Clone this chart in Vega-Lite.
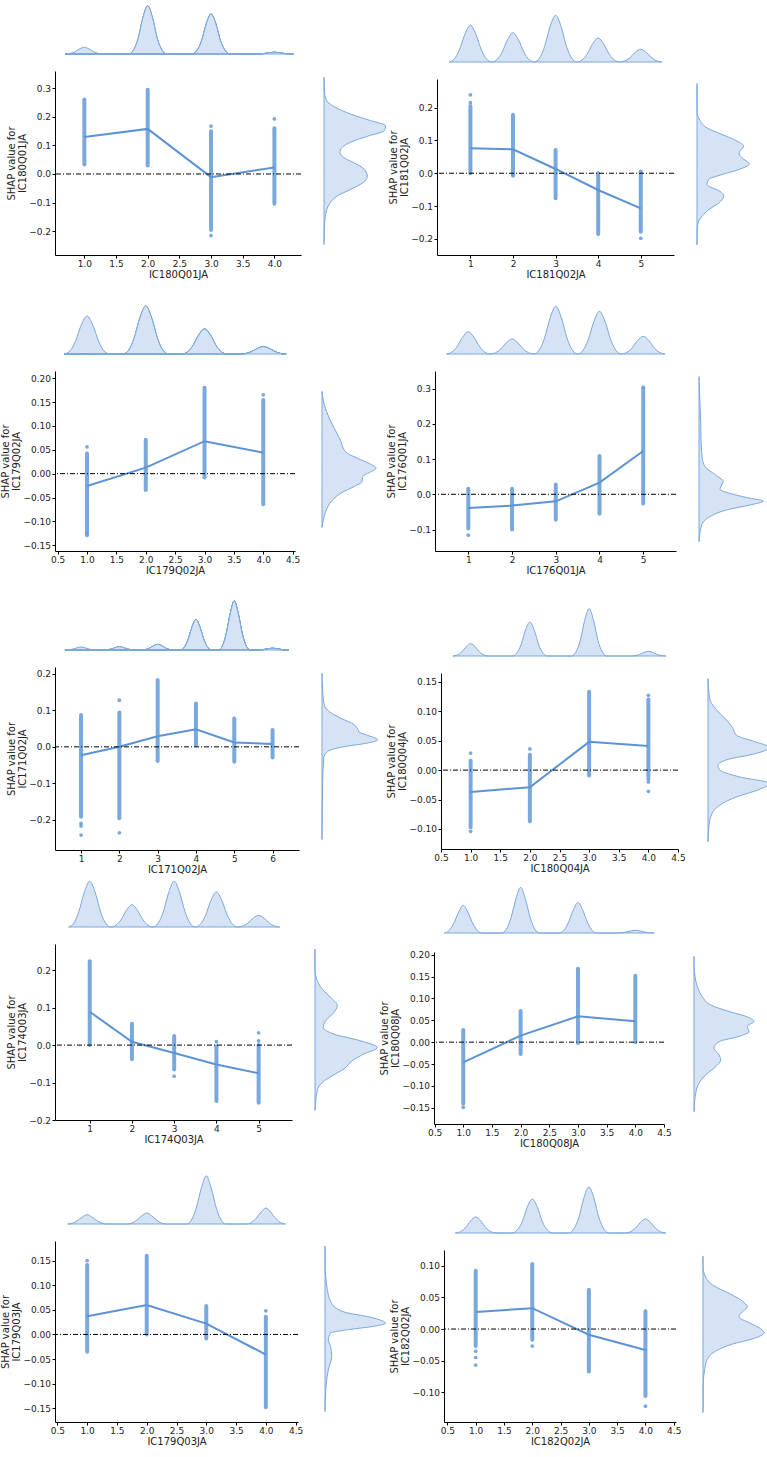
{
"$schema":"https://vega.github.io/schema/vega-lite/v6.json",
"background":"white",
"padding":{"left":0,"top":3,"right":0,"bottom":0},
"config":{"view":{"stroke":null},"font":"DejaVu Sans",
"axis":{"domainColor":"#000","tickColor":"#000","labelColor":"#222","titleColor":"#222","labelFont":"DejaVu Sans","titleFont":"DejaVu Sans","labelFontSize":9,"titleFontSize":10,"titleFontWeight":"normal","tickSize":3,"labelPadding":1.5,"titlePadding":1,"titleLineHeight":11,"grid":false,"labelFlush":false,"labelOverlap":false}},
"spacing":4,
"vconcat":[
{"hconcat":[
{"hconcat":[
 {"vconcat":[
  {"width":246,"height":50,"data":{"values":[{"x":0.7,"d":0,"g":1},{"x":0.775,"d":0.54,"g":1},{"x":0.85,"d":2.18,"g":1},{"x":0.925,"d":5.06,"g":1},{"x":1,"d":6.7,"g":1},{"x":1.075,"d":5.06,"g":1},{"x":1.15,"d":2.18,"g":1},{"x":1.225,"d":0.54,"g":1},{"x":1.3,"d":0,"g":1},{"x":1.7,"d":0,"g":2},{"x":1.775,"d":3.86,"g":2},{"x":1.85,"d":15.7,"g":2},{"x":1.925,"d":36.5,"g":2},{"x":2,"d":48.3,"g":2},{"x":2.075,"d":36.5,"g":2},{"x":2.15,"d":15.7,"g":2},{"x":2.225,"d":3.86,"g":2},{"x":2.3,"d":0,"g":2},{"x":2.7,"d":0,"g":3},{"x":2.775,"d":3.2,"g":3},{"x":2.85,"d":13,"g":3},{"x":2.925,"d":30.2,"g":3},{"x":3,"d":40,"g":3},{"x":3.075,"d":30.2,"g":3},{"x":3.15,"d":13,"g":3},{"x":3.225,"d":3.2,"g":3},{"x":3.3,"d":0,"g":3},{"x":3.7,"d":0,"g":4},{"x":3.775,"d":0.14,"g":4},{"x":3.85,"d":0.55,"g":4},{"x":3.925,"d":1.28,"g":4},{"x":4,"d":1.7,"g":4},{"x":4.075,"d":1.28,"g":4},{"x":4.15,"d":0.55,"g":4},{"x":4.225,"d":0.14,"g":4},{"x":4.3,"d":0,"g":4}]},
   "mark":{"type":"area","interpolate":"monotone","fill":"#d6e3f4","stroke":"#7ba7dd","strokeWidth":1},
   "encoding":{"x":{"field":"x","type":"quantitative","scale":{"domain":[0.537,4.42],"nice":false,"zero":false},"axis":null},"y":{"field":"d","type":"quantitative","scale":{"domain":[0,50],"nice":false},"axis":null},"detail":{"field":"g","type":"nominal"}}},
  {"width":246,"height":184,"layer":[
   {"data":{"values":[{"x":1,"y":0.033,"y2":0.261},{"x":2,"y":0.03,"y2":0.295},{"x":3,"y":-0.196,"y2":0.15},{"x":4,"y":-0.104,"y2":0.16}]},
    "mark":{"type":"rule","color":"#6a9edb","strokeWidth":4,"strokeCap":"round","opacity":0.9},
    "encoding":{"x":{"field":"x","type":"quantitative","scale":{"domain":[0.537,4.42],"nice":false,"zero":false},"axis":{"values":[1,1.5,2,2.5,3,3.5,4],"tickCount":20,"labelOverlap":false,"format":".1f","title":"IC180Q01JA"}},"y":{"field":"y","type":"quantitative","scale":{"domain":[-0.284,0.361],"nice":false,"zero":false},"axis":{"values":[-0.2,-0.1,0,0.1,0.2,0.3],"tickCount":20,"labelOverlap":false,"format":".1f","title":["SHAP value for","IC180Q01JA"]}},"y2":{"field":"y2"}}},
   {"data":{"values":[{"x":3,"y":0.168},{"x":3,"y":-0.216},{"x":4,"y":0.193}]},"mark":{"type":"circle","color":"#6a9edb","size":14,"opacity":0.9},
    "encoding":{"x":{"field":"x","type":"quantitative","scale":{"domain":[0.537,4.42],"nice":false,"zero":false}},"y":{"field":"y","type":"quantitative","scale":{"domain":[-0.284,0.361],"nice":false,"zero":false}}}},
   {"data":{"values":[{"x":1,"y":0.13},{"x":2,"y":0.158},{"x":3,"y":-0.011},{"x":4,"y":0.023}]},"mark":{"type":"line","color":"#5b93d6","strokeWidth":2},
    "encoding":{"x":{"field":"x","type":"quantitative","scale":{"domain":[0.537,4.42],"nice":false,"zero":false}},"y":{"field":"y","type":"quantitative","scale":{"domain":[-0.284,0.361],"nice":false,"zero":false}}}},
   {"data":{"values":[{}]},"mark":{"type":"rule","color":"#000","strokeWidth":1,"strokeDash":[5,2,1,2]},"encoding":{"y":{"datum":0}}}
  ]}
 ],"spacing":15},
 {"vconcat":[
  {"width":65,"height":50,"data":{"values":[{}]},"mark":{"type":"text","text":""},"encoding":{}},
  {"width":65,"height":184,"data":{"values":[{"y":0.332,"d":0},{"y":0.28,"d":0.5},{"y":0.25,"d":2.7},{"y":0.226,"d":11.7},{"y":0.203,"d":26.7},{"y":0.18,"d":46.7},{"y":0.162,"d":61.7},{"y":0.144,"d":60},{"y":0.127,"d":45},{"y":0.109,"d":30},{"y":0.086,"d":18},{"y":0.068,"d":16},{"y":0.05,"d":20},{"y":0.027,"d":33},{"y":0.0035,"d":41.7},{"y":-0.014,"d":43.3},{"y":-0.0375,"d":39},{"y":-0.061,"d":26.7},{"y":-0.084,"d":13.3},{"y":-0.114,"d":5},{"y":-0.149,"d":1.7},{"y":-0.196,"d":0.3},{"y":-0.254,"d":0}]},
   "mark":{"type":"area","orient":"horizontal","interpolate":"monotone","fill":"#d6e3f4","stroke":"#7ba7dd","strokeWidth":1},
   "encoding":{"y":{"field":"y","type":"quantitative","scale":{"domain":[-0.284,0.361],"nice":false,"zero":false},"axis":null},"x":{"field":"d","type":"quantitative","scale":{"domain":[0,65],"nice":false},"axis":null}}}
 ],"spacing":15}
],"spacing":20},
{"hconcat":[
 {"vconcat":[
  {"width":237,"height":58,"data":{"values":[{"x":0.5,"d":0},{"x":0.62,"d":2.94},{"x":0.74,"d":11.9},{"x":0.87,"d":27.7},{"x":1,"d":36.7},{"x":1.13,"d":27.7},{"x":1.26,"d":11.9},{"x":1.38,"d":2.94},{"x":1.5,"d":0},{"x":1.62,"d":2.34},{"x":1.74,"d":9.52},{"x":1.87,"d":22.1},{"x":2,"d":29.3},{"x":2.13,"d":22.1},{"x":2.26,"d":9.52},{"x":2.38,"d":2.34},{"x":2.5,"d":0},{"x":2.62,"d":3.74},{"x":2.74,"d":15.2},{"x":2.87,"d":35.3},{"x":3,"d":46.7},{"x":3.13,"d":35.3},{"x":3.26,"d":15.2},{"x":3.38,"d":3.74},{"x":3.5,"d":0},{"x":3.62,"d":1.92},{"x":3.74,"d":7.8},{"x":3.87,"d":18.1},{"x":4,"d":24},{"x":4.13,"d":18.1},{"x":4.26,"d":7.8},{"x":4.38,"d":1.92},{"x":4.5,"d":0},{"x":4.62,"d":1.02},{"x":4.74,"d":4.13},{"x":4.87,"d":9.59},{"x":5,"d":12.7},{"x":5.13,"d":9.59},{"x":5.26,"d":4.13},{"x":5.38,"d":1.02},{"x":5.5,"d":0}]},
   "mark":{"type":"area","interpolate":"monotone","fill":"#d6e3f4","stroke":"#7ba7dd","strokeWidth":1},
   "encoding":{"x":{"field":"x","type":"quantitative","scale":{"domain":[0.216,5.78],"nice":false,"zero":false},"axis":null},"y":{"field":"d","type":"quantitative","scale":{"domain":[0,58],"nice":false},"axis":null}}},
  {"width":237,"height":176,"layer":[
   {"data":{"values":[{"x":1,"y":0,"y2":0.205},{"x":2,"y":-0.005,"y2":0.178},{"x":3,"y":-0.076,"y2":0.071},{"x":4,"y":-0.185,"y2":0},{"x":5,"y":-0.178,"y2":0.005}]},
    "mark":{"type":"rule","color":"#6a9edb","strokeWidth":4,"strokeCap":"round","opacity":0.9},
    "encoding":{"x":{"field":"x","type":"quantitative","scale":{"domain":[0.216,5.78],"nice":false,"zero":false},"axis":{"values":[1,2,3,4,5],"tickCount":20,"labelOverlap":false,"format":"d","title":"IC181Q02JA"}},"y":{"field":"y","type":"quantitative","scale":{"domain":[-0.249,0.287],"nice":false,"zero":false},"axis":{"values":[-0.2,-0.1,0,0.1,0.2],"tickCount":20,"labelOverlap":false,"format":".1f","title":["SHAP value for","IC181Q02JA"]}},"y2":{"field":"y2"}}},
   {"data":{"values":[{"x":1,"y":0.239},{"x":1,"y":0.215},{"x":5,"y":-0.198},{"x":2,"y":-0.008}]},"mark":{"type":"circle","color":"#6a9edb","size":14,"opacity":0.9},
    "encoding":{"x":{"field":"x","type":"quantitative","scale":{"domain":[0.216,5.78],"nice":false,"zero":false}},"y":{"field":"y","type":"quantitative","scale":{"domain":[-0.249,0.287],"nice":false,"zero":false}}}},
   {"data":{"values":[{"x":1,"y":0.076},{"x":2,"y":0.073},{"x":3,"y":0.013},{"x":4,"y":-0.051},{"x":5,"y":-0.107}]},"mark":{"type":"line","color":"#5b93d6","strokeWidth":2},
    "encoding":{"x":{"field":"x","type":"quantitative","scale":{"domain":[0.216,5.78],"nice":false,"zero":false}},"y":{"field":"y","type":"quantitative","scale":{"domain":[-0.249,0.287],"nice":false,"zero":false}}}},
   {"data":{"values":[{}]},"mark":{"type":"rule","color":"#000","strokeWidth":1,"strokeDash":[5,2,1,2]},"encoding":{"y":{"datum":0}}}
  ]}
 ],"spacing":15},
 {"vconcat":[
  {"width":65,"height":58,"data":{"values":[{}]},"mark":{"type":"text","text":""},"encoding":{}},
  {"width":65,"height":176,"data":{"values":[{"y":0.267,"d":0},{"y":0.183,"d":0},{"y":0.163,"d":1.7},{"y":0.132,"d":10},{"y":0.112,"d":25},{"y":0.092,"d":40},{"y":0.076,"d":46.7},{"y":0.056,"d":42},{"y":0.041,"d":45},{"y":0.022,"d":52.3},{"y":0.005,"d":41.7},{"y":-0.01,"d":25},{"y":-0.025,"d":11.7},{"y":-0.041,"d":10},{"y":-0.061,"d":23},{"y":-0.076,"d":26.7},{"y":-0.097,"d":21.7},{"y":-0.117,"d":11.7},{"y":-0.137,"d":5},{"y":-0.163,"d":0.7},{"y":-0.193,"d":0},{"y":-0.224,"d":0}]},
   "mark":{"type":"area","orient":"horizontal","interpolate":"monotone","fill":"#d6e3f4","stroke":"#7ba7dd","strokeWidth":1},
   "encoding":{"y":{"field":"y","type":"quantitative","scale":{"domain":[-0.249,0.287],"nice":false,"zero":false},"axis":null},"x":{"field":"d","type":"quantitative","scale":{"domain":[0,65],"nice":false},"axis":null}}}
 ],"spacing":15}
],"spacing":20}
],"spacing":-1},
{"hconcat":[
{"hconcat":[
 {"vconcat":[
  {"width":240,"height":70,"data":{"values":[{"x":0.61,"d":0,"g":1},{"x":0.71,"d":3.04,"g":1},{"x":0.8,"d":12.4,"g":1},{"x":0.9,"d":28.7,"g":1},{"x":1,"d":38,"g":1},{"x":1.1,"d":28.7,"g":1},{"x":1.2,"d":12.4,"g":1},{"x":1.29,"d":3.04,"g":1},{"x":1.39,"d":0,"g":1},{"x":1.61,"d":0,"g":2},{"x":1.71,"d":3.84,"g":2},{"x":1.8,"d":15.6,"g":2},{"x":1.9,"d":36.2,"g":2},{"x":2,"d":48,"g":2},{"x":2.1,"d":36.2,"g":2},{"x":2.2,"d":15.6,"g":2},{"x":2.29,"d":3.84,"g":2},{"x":2.39,"d":0,"g":2},{"x":2.61,"d":0,"g":3},{"x":2.71,"d":2,"g":3},{"x":2.8,"d":8.13,"g":3},{"x":2.9,"d":18.9,"g":3},{"x":3,"d":25,"g":3},{"x":3.1,"d":18.9,"g":3},{"x":3.2,"d":8.13,"g":3},{"x":3.29,"d":2,"g":3},{"x":3.39,"d":0,"g":3},{"x":3.61,"d":0,"g":4},{"x":3.71,"d":0.58,"g":4},{"x":3.8,"d":2.37,"g":4},{"x":3.9,"d":5.51,"g":4},{"x":4,"d":7.3,"g":4},{"x":4.1,"d":5.51,"g":4},{"x":4.2,"d":2.37,"g":4},{"x":4.29,"d":0.58,"g":4},{"x":4.39,"d":0,"g":4}]},
   "mark":{"type":"area","interpolate":"monotone","fill":"#d6e3f4","stroke":"#7ba7dd","strokeWidth":1},
   "encoding":{"x":{"field":"x","type":"quantitative","scale":{"domain":[0.455,4.54],"nice":false,"zero":false},"axis":null},"y":{"field":"d","type":"quantitative","scale":{"domain":[0,70],"nice":false},"axis":null},"detail":{"field":"g","type":"nominal"}}},
  {"width":240,"height":180,"layer":[
   {"data":{"values":[{"x":1,"y":-0.129,"y2":0.042},{"x":2,"y":-0.034,"y2":0.071},{"x":3,"y":-0.008,"y2":0.18},{"x":4,"y":-0.064,"y2":0.154}]},
    "mark":{"type":"rule","color":"#6a9edb","strokeWidth":4,"strokeCap":"round","opacity":0.9},
    "encoding":{"x":{"field":"x","type":"quantitative","scale":{"domain":[0.455,4.54],"nice":false,"zero":false},"axis":{"values":[0.5,1,1.5,2,2.5,3,3.5,4,4.5],"tickCount":20,"labelOverlap":false,"format":".1f","title":"IC179Q02JA"}},"y":{"field":"y","type":"quantitative","scale":{"domain":[-0.162,0.215],"nice":false,"zero":false},"axis":{"values":[-0.15,-0.1,-0.05,0,0.05,0.1,0.15,0.2],"tickCount":20,"labelOverlap":false,"format":".2f","title":["SHAP value for","IC179Q02JA"]}},"y2":{"field":"y2"}}},
   {"data":{"values":[{"x":1,"y":0.056},{"x":4,"y":0.165},{"x":1,"y":-0.125}]},"mark":{"type":"circle","color":"#6a9edb","size":14,"opacity":0.9},
    "encoding":{"x":{"field":"x","type":"quantitative","scale":{"domain":[0.455,4.54],"nice":false,"zero":false}},"y":{"field":"y","type":"quantitative","scale":{"domain":[-0.162,0.215],"nice":false,"zero":false}}}},
   {"data":{"values":[{"x":1,"y":-0.026},{"x":2,"y":0.0126},{"x":3,"y":0.068},{"x":4,"y":0.044}]},"mark":{"type":"line","color":"#5b93d6","strokeWidth":2},
    "encoding":{"x":{"field":"x","type":"quantitative","scale":{"domain":[0.455,4.54],"nice":false,"zero":false}},"y":{"field":"y","type":"quantitative","scale":{"domain":[-0.162,0.215],"nice":false,"zero":false}}}},
   {"data":{"values":[{}]},"mark":{"type":"rule","color":"#000","strokeWidth":1,"strokeDash":[5,2,1,2]},"encoding":{"y":{"datum":0}}}
  ]}
 ],"spacing":15},
 {"vconcat":[
  {"width":65,"height":70,"data":{"values":[{}]},"mark":{"type":"text","text":""},"encoding":{}},
  {"width":65,"height":180,"data":{"values":[{"y":0.168,"d":0},{"y":0.14,"d":2.3},{"y":0.112,"d":7.3},{"y":0.084,"d":14},{"y":0.063,"d":19},{"y":0.045,"d":22.3},{"y":0.038,"d":25.7},{"y":0.028,"d":35.7},{"y":0.017,"d":47.3},{"y":0.007,"d":54},{"y":-0.002,"d":47.3},{"y":-0.01,"d":40.7},{"y":-0.021,"d":40},{"y":-0.031,"d":32.3},{"y":-0.045,"d":19},{"y":-0.059,"d":10.7},{"y":-0.077,"d":5},{"y":-0.098,"d":1.7},{"y":-0.117,"d":0}]},
   "mark":{"type":"area","orient":"horizontal","interpolate":"monotone","fill":"#d6e3f4","stroke":"#7ba7dd","strokeWidth":1},
   "encoding":{"y":{"field":"y","type":"quantitative","scale":{"domain":[-0.162,0.215],"nice":false,"zero":false},"axis":null},"x":{"field":"d","type":"quantitative","scale":{"domain":[0,65],"nice":false},"axis":null}}}
 ],"spacing":15}
],"spacing":20},
{"hconcat":[
 {"vconcat":[
  {"width":241,"height":70,"data":{"values":[{"x":0.5,"d":0},{"x":0.62,"d":1.78},{"x":0.74,"d":7.25},{"x":0.87,"d":16.8},{"x":1,"d":22.3},{"x":1.13,"d":16.8},{"x":1.26,"d":7.25},{"x":1.38,"d":1.78},{"x":1.5,"d":0},{"x":1.62,"d":1.2},{"x":1.74,"d":4.88},{"x":1.87,"d":11.3},{"x":2,"d":15},{"x":2.13,"d":11.3},{"x":2.26,"d":4.88},{"x":2.38,"d":1.2},{"x":2.5,"d":0},{"x":2.62,"d":3.82},{"x":2.74,"d":15.5},{"x":2.87,"d":36},{"x":3,"d":47.7},{"x":3.13,"d":36},{"x":3.26,"d":15.5},{"x":3.38,"d":3.82},{"x":3.5,"d":0},{"x":3.62,"d":3.42},{"x":3.74,"d":13.9},{"x":3.87,"d":32.2},{"x":4,"d":42.7},{"x":4.13,"d":32.2},{"x":4.26,"d":13.9},{"x":4.38,"d":3.42},{"x":4.5,"d":0},{"x":4.62,"d":1.42},{"x":4.74,"d":5.75},{"x":4.87,"d":13.4},{"x":5,"d":17.7},{"x":5.13,"d":13.4},{"x":5.26,"d":5.75},{"x":5.38,"d":1.42},{"x":5.5,"d":0}]},
   "mark":{"type":"area","interpolate":"monotone","fill":"#d6e3f4","stroke":"#7ba7dd","strokeWidth":1},
   "encoding":{"x":{"field":"x","type":"quantitative","scale":{"domain":[0.238,5.75],"nice":false,"zero":false},"axis":null},"y":{"field":"d","type":"quantitative","scale":{"domain":[0,70],"nice":false},"axis":null}}},
  {"width":241,"height":180,"layer":[
   {"data":{"values":[{"x":1,"y":-0.097,"y2":0.016},{"x":2,"y":-0.1,"y2":0.016},{"x":3,"y":-0.072,"y2":0.028},{"x":4,"y":-0.055,"y2":0.109},{"x":5,"y":-0.026,"y2":0.3}]},
    "mark":{"type":"rule","color":"#6a9edb","strokeWidth":4,"strokeCap":"round","opacity":0.9},
    "encoding":{"x":{"field":"x","type":"quantitative","scale":{"domain":[0.238,5.75],"nice":false,"zero":false},"axis":{"values":[1,2,3,4,5],"tickCount":20,"labelOverlap":false,"format":"d","title":"IC176Q01JA"}},"y":{"field":"y","type":"quantitative","scale":{"domain":[-0.161,0.35],"nice":false,"zero":false},"axis":{"values":[-0.1,0,0.1,0.2,0.3],"tickCount":20,"labelOverlap":false,"format":".1f","title":["SHAP value for","IC176Q01JA"]}},"y2":{"field":"y2"}}},
   {"data":{"values":[{"x":1,"y":-0.116},{"x":5,"y":0.304}]},"mark":{"type":"circle","color":"#6a9edb","size":14,"opacity":0.9},
    "encoding":{"x":{"field":"x","type":"quantitative","scale":{"domain":[0.238,5.75],"nice":false,"zero":false}},"y":{"field":"y","type":"quantitative","scale":{"domain":[-0.161,0.35],"nice":false,"zero":false}}}},
   {"data":{"values":[{"x":1,"y":-0.039},{"x":2,"y":-0.032},{"x":3,"y":-0.02},{"x":4,"y":0.033},{"x":5,"y":0.123}]},"mark":{"type":"line","color":"#5b93d6","strokeWidth":2},
    "encoding":{"x":{"field":"x","type":"quantitative","scale":{"domain":[0.238,5.75],"nice":false,"zero":false}},"y":{"field":"y","type":"quantitative","scale":{"domain":[-0.161,0.35],"nice":false,"zero":false}}}},
   {"data":{"values":[{}]},"mark":{"type":"rule","color":"#000","strokeWidth":1,"strokeDash":[5,2,1,2]},"encoding":{"y":{"datum":0}}}
  ]}
 ],"spacing":15},
 {"vconcat":[
  {"width":65,"height":70,"data":{"values":[{}]},"mark":{"type":"text","text":""},"encoding":{}},
  {"width":65,"height":180,"data":{"values":[{"y":0.328,"d":0},{"y":0.248,"d":1},{"y":0.2,"d":1.7},{"y":0.153,"d":2},{"y":0.096,"d":3.3},{"y":0.073,"d":6},{"y":0.054,"d":14.3},{"y":0.04,"d":21},{"y":0.032,"d":24.3},{"y":0.021,"d":22.7},{"y":0.009,"d":21},{"y":-0.003,"d":31},{"y":-0.015,"d":47.7},{"y":-0.025,"d":64.3},{"y":-0.036,"d":51},{"y":-0.05,"d":27.7},{"y":-0.069,"d":11},{"y":-0.093,"d":2.7},{"y":-0.14,"d":0}]},
   "mark":{"type":"area","orient":"horizontal","interpolate":"monotone","fill":"#d6e3f4","stroke":"#7ba7dd","strokeWidth":1},
   "encoding":{"y":{"field":"y","type":"quantitative","scale":{"domain":[-0.161,0.35],"nice":false,"zero":false},"axis":null},"x":{"field":"d","type":"quantitative","scale":{"domain":[0,65],"nice":false},"axis":null}}}
 ],"spacing":15}
],"spacing":20}
],"spacing":-1},
{"hconcat":[
{"hconcat":[
 {"vconcat":[
  {"width":244,"height":70,"data":{"values":[{"x":0.58,"d":0,"g":1},{"x":0.69,"d":0.24,"g":1},{"x":0.79,"d":0.98,"g":1},{"x":0.9,"d":2.27,"g":1},{"x":1,"d":3,"g":1},{"x":1.1,"d":2.27,"g":1},{"x":1.21,"d":0.98,"g":1},{"x":1.31,"d":0.24,"g":1},{"x":1.42,"d":0,"g":1},{"x":1.58,"d":0,"g":2},{"x":1.69,"d":0.26,"g":2},{"x":1.79,"d":1.07,"g":2},{"x":1.9,"d":2.49,"g":2},{"x":2,"d":3.3,"g":2},{"x":2.1,"d":2.49,"g":2},{"x":2.21,"d":1.07,"g":2},{"x":2.31,"d":0.26,"g":2},{"x":2.42,"d":0,"g":2},{"x":2.58,"d":0,"g":3},{"x":2.69,"d":0.46,"g":3},{"x":2.79,"d":1.85,"g":3},{"x":2.9,"d":4.3,"g":3},{"x":3,"d":5.7,"g":3},{"x":3.1,"d":4.3,"g":3},{"x":3.21,"d":1.85,"g":3},{"x":3.31,"d":0.46,"g":3},{"x":3.42,"d":0,"g":3},{"x":3.58,"d":0,"g":4},{"x":3.69,"d":2.46,"g":4},{"x":3.79,"d":9.98,"g":4},{"x":3.9,"d":23.2,"g":4},{"x":4,"d":30.7,"g":4},{"x":4.1,"d":23.2,"g":4},{"x":4.21,"d":9.98,"g":4},{"x":4.31,"d":2.46,"g":4},{"x":4.42,"d":0,"g":4},{"x":4.58,"d":0,"g":5},{"x":4.69,"d":3.92,"g":5},{"x":4.79,"d":15.9,"g":5},{"x":4.9,"d":37,"g":5},{"x":5,"d":49,"g":5},{"x":5.1,"d":37,"g":5},{"x":5.21,"d":15.9,"g":5},{"x":5.31,"d":3.92,"g":5},{"x":5.42,"d":0,"g":5},{"x":5.58,"d":0,"g":6},{"x":5.69,"d":0.14,"g":6},{"x":5.79,"d":0.55,"g":6},{"x":5.9,"d":1.28,"g":6},{"x":6,"d":1.7,"g":6},{"x":6.1,"d":1.28,"g":6},{"x":6.21,"d":0.55,"g":6},{"x":6.31,"d":0.14,"g":6},{"x":6.42,"d":0,"g":6}]},
   "mark":{"type":"area","interpolate":"monotone","fill":"#d6e3f4","stroke":"#7ba7dd","strokeWidth":1},
   "encoding":{"x":{"field":"x","type":"quantitative","scale":{"domain":[0.32,6.69],"nice":false,"zero":false},"axis":null},"y":{"field":"d","type":"quantitative","scale":{"domain":[0,70],"nice":false},"axis":null},"detail":{"field":"g","type":"nominal"}}},
  {"width":244,"height":183,"layer":[
   {"data":{"values":[{"x":1,"y":-0.192,"y2":0.087},{"x":2,"y":-0.196,"y2":0.094},{"x":3,"y":-0.039,"y2":0.183},{"x":4,"y":0.005,"y2":0.119},{"x":5,"y":-0.041,"y2":0.078},{"x":6,"y":-0.029,"y2":0.046}]},
    "mark":{"type":"rule","color":"#6a9edb","strokeWidth":4,"strokeCap":"round","opacity":0.9},
    "encoding":{"x":{"field":"x","type":"quantitative","scale":{"domain":[0.32,6.69],"nice":false,"zero":false},"axis":{"values":[1,2,3,4,5,6],"tickCount":20,"labelOverlap":false,"format":"d","title":"IC171Q02JA"}},"y":{"field":"y","type":"quantitative","scale":{"domain":[-0.283,0.219],"nice":false,"zero":false},"axis":{"values":[-0.2,-0.1,0,0.1,0.2],"tickCount":20,"labelOverlap":false,"format":".1f","title":["SHAP value for","IC171Q02JA"]}},"y2":{"field":"y2"}}},
   {"data":{"values":[{"x":1,"y":-0.21},{"x":1,"y":-0.217},{"x":1,"y":-0.242},{"x":2,"y":0.128},{"x":2,"y":-0.236}]},"mark":{"type":"circle","color":"#6a9edb","size":14,"opacity":0.9},
    "encoding":{"x":{"field":"x","type":"quantitative","scale":{"domain":[0.32,6.69],"nice":false,"zero":false}},"y":{"field":"y","type":"quantitative","scale":{"domain":[-0.283,0.219],"nice":false,"zero":false}}}},
   {"data":{"values":[{"x":1,"y":-0.023},{"x":2,"y":0},{"x":3,"y":0.029},{"x":4,"y":0.048},{"x":5,"y":0.012},{"x":6,"y":0.008}]},"mark":{"type":"line","color":"#5b93d6","strokeWidth":2},
    "encoding":{"x":{"field":"x","type":"quantitative","scale":{"domain":[0.32,6.69],"nice":false,"zero":false}},"y":{"field":"y","type":"quantitative","scale":{"domain":[-0.283,0.219],"nice":false,"zero":false}}}},
   {"data":{"values":[{}]},"mark":{"type":"rule","color":"#000","strokeWidth":1,"strokeDash":[5,2,1,2]},"encoding":{"y":{"datum":0}}}
  ]}
 ],"spacing":15},
 {"vconcat":[
  {"width":65,"height":70,"data":{"values":[{}]},"mark":{"type":"text","text":""},"encoding":{}},
  {"width":65,"height":183,"data":{"values":[{"y":0.196,"d":0},{"y":0.146,"d":0.7},{"y":0.11,"d":2.3},{"y":0.091,"d":7.3},{"y":0.073,"d":19},{"y":0.055,"d":32.3},{"y":0.044,"d":35.7},{"y":0.035,"d":37.3},{"y":0.026,"d":45.7},{"y":0.014,"d":55.7},{"y":0.005,"d":45.7},{"y":-0.005,"d":22.3},{"y":-0.018,"d":5.7},{"y":-0.037,"d":1.7},{"y":-0.1,"d":0.7},{"y":-0.26,"d":0}]},
   "mark":{"type":"area","orient":"horizontal","interpolate":"monotone","fill":"#d6e3f4","stroke":"#7ba7dd","strokeWidth":1},
   "encoding":{"y":{"field":"y","type":"quantitative","scale":{"domain":[-0.283,0.219],"nice":false,"zero":false},"axis":null},"x":{"field":"d","type":"quantitative","scale":{"domain":[0,65],"nice":false},"axis":null}}}
 ],"spacing":15}
],"spacing":20},
{"hconcat":[
 {"vconcat":[
  {"width":237,"height":76,"data":{"values":[{"x":0.7,"d":0},{"x":0.775,"d":0.98},{"x":0.85,"d":4},{"x":0.925,"d":9.29},{"x":1,"d":12.3},{"x":1.075,"d":9.29},{"x":1.15,"d":4},{"x":1.225,"d":0.98},{"x":1.3,"d":0},{"x":1.7,"d":0},{"x":1.775,"d":2.72},{"x":1.85,"d":11.1},{"x":1.925,"d":25.7},{"x":2,"d":34},{"x":2.075,"d":25.7},{"x":2.15,"d":11.1},{"x":2.225,"d":2.72},{"x":2.3,"d":0},{"x":2.7,"d":0},{"x":2.775,"d":3.78},{"x":2.85,"d":15.4},{"x":2.925,"d":35.7},{"x":3,"d":47.3},{"x":3.075,"d":35.7},{"x":3.15,"d":15.4},{"x":3.225,"d":3.78},{"x":3.3,"d":0},{"x":3.7,"d":0},{"x":3.775,"d":0.38},{"x":3.85,"d":1.53},{"x":3.925,"d":3.55},{"x":4,"d":4.7},{"x":4.075,"d":3.55},{"x":4.15,"d":1.53},{"x":4.225,"d":0.38},{"x":4.3,"d":0}]},
   "mark":{"type":"area","interpolate":"monotone","fill":"#d6e3f4","stroke":"#7ba7dd","strokeWidth":1},
   "encoding":{"x":{"field":"x","type":"quantitative","scale":{"domain":[0.5,4.5],"nice":false,"zero":false},"axis":null},"y":{"field":"d","type":"quantitative","scale":{"domain":[0,76],"nice":false},"axis":null}}},
  {"width":237,"height":176,"layer":[
   {"data":{"values":[{"x":1,"y":-0.097,"y2":0.016},{"x":2,"y":-0.087,"y2":0.026},{"x":3,"y":-0.009,"y2":0.133},{"x":4,"y":-0.015,"y2":0.12}]},
    "mark":{"type":"rule","color":"#6a9edb","strokeWidth":4,"strokeCap":"round","opacity":0.9},
    "encoding":{"x":{"field":"x","type":"quantitative","scale":{"domain":[0.5,4.5],"nice":false,"zero":false},"axis":{"values":[0.5,1,1.5,2,2.5,3,3.5,4,4.5],"tickCount":20,"labelOverlap":false,"format":".1f","title":"IC180Q04JA"}},"y":{"field":"y","type":"quantitative","scale":{"domain":[-0.134,0.165],"nice":false,"zero":false},"axis":{"values":[-0.1,-0.05,0,0.05,0.1,0.15],"tickCount":20,"labelOverlap":false,"format":".2f","title":["SHAP value for","IC180Q04JA"]}},"y2":{"field":"y2"}}},
   {"data":{"values":[{"x":1,"y":0.029},{"x":1,"y":-0.104},{"x":2,"y":0.036},{"x":4,"y":0.127},{"x":4,"y":-0.02},{"x":4,"y":-0.036}]},"mark":{"type":"circle","color":"#6a9edb","size":14,"opacity":0.9},
    "encoding":{"x":{"field":"x","type":"quantitative","scale":{"domain":[0.5,4.5],"nice":false,"zero":false}},"y":{"field":"y","type":"quantitative","scale":{"domain":[-0.134,0.165],"nice":false,"zero":false}}}},
   {"data":{"values":[{"x":1,"y":-0.037},{"x":2,"y":-0.029},{"x":3,"y":0.048},{"x":4,"y":0.041}]},"mark":{"type":"line","color":"#5b93d6","strokeWidth":2},
    "encoding":{"x":{"field":"x","type":"quantitative","scale":{"domain":[0.5,4.5],"nice":false,"zero":false}},"y":{"field":"y","type":"quantitative","scale":{"domain":[-0.134,0.165],"nice":false,"zero":false}}}},
   {"data":{"values":[{}]},"mark":{"type":"rule","color":"#000","strokeWidth":1,"strokeDash":[5,2,1,2]},"encoding":{"y":{"datum":0}}}
  ]}
 ],"spacing":15},
 {"vconcat":[
  {"width":65,"height":76,"data":{"values":[{}]},"mark":{"type":"text","text":""},"encoding":{}},
  {"width":65,"height":176,"data":{"values":[{"y":0.152,"d":0},{"y":0.118,"d":1.7},{"y":0.096,"d":10},{"y":0.079,"d":20},{"y":0.067,"d":25},{"y":0.056,"d":28.3},{"y":0.045,"d":46.7},{"y":0.035,"d":61.7},{"y":0.025,"d":48.3},{"y":0.014,"d":18.3},{"y":0.005,"d":10},{"y":-0.003,"d":11.7},{"y":-0.015,"d":31.7},{"y":-0.026,"d":61.7},{"y":-0.036,"d":51.7},{"y":-0.049,"d":28.3},{"y":-0.063,"d":11.7},{"y":-0.08,"d":3.3},{"y":-0.102,"d":0.7},{"y":-0.125,"d":0}]},
   "mark":{"type":"area","orient":"horizontal","interpolate":"monotone","fill":"#d6e3f4","stroke":"#7ba7dd","strokeWidth":1},
   "encoding":{"y":{"field":"y","type":"quantitative","scale":{"domain":[-0.134,0.165],"nice":false,"zero":false},"axis":null},"x":{"field":"d","type":"quantitative","scale":{"domain":[0,65],"nice":false},"axis":null}}}
 ],"spacing":15}
],"spacing":20}
],"spacing":-1},
{"hconcat":[
{"hconcat":[
 {"vconcat":[
  {"width":237,"height":47,"data":{"values":[{"x":0.5,"d":0},{"x":0.62,"d":3.66},{"x":0.74,"d":14.9},{"x":0.87,"d":34.5},{"x":1,"d":45.7},{"x":1.13,"d":34.5},{"x":1.26,"d":14.9},{"x":1.38,"d":3.66},{"x":1.5,"d":0},{"x":1.62,"d":1.78},{"x":1.74,"d":7.25},{"x":1.87,"d":16.8},{"x":2,"d":22.3},{"x":2.13,"d":16.8},{"x":2.26,"d":7.25},{"x":2.38,"d":1.78},{"x":2.5,"d":0},{"x":2.62,"d":3.66},{"x":2.74,"d":14.9},{"x":2.87,"d":34.5},{"x":3,"d":45.7},{"x":3.13,"d":34.5},{"x":3.26,"d":14.9},{"x":3.38,"d":3.66},{"x":3.5,"d":0},{"x":3.62,"d":2.8},{"x":3.74,"d":11.4},{"x":3.87,"d":26.4},{"x":4,"d":35},{"x":4.13,"d":26.4},{"x":4.26,"d":11.4},{"x":4.38,"d":2.8},{"x":4.5,"d":0},{"x":4.62,"d":0.94},{"x":4.74,"d":3.8},{"x":4.87,"d":8.83},{"x":5,"d":11.7},{"x":5.13,"d":8.83},{"x":5.26,"d":3.8},{"x":5.38,"d":0.94},{"x":5.5,"d":0}]},
   "mark":{"type":"area","interpolate":"monotone","fill":"#d6e3f4","stroke":"#7ba7dd","strokeWidth":1},
   "encoding":{"x":{"field":"x","type":"quantitative","scale":{"domain":[0.178,5.79],"nice":false,"zero":false},"axis":null},"y":{"field":"d","type":"quantitative","scale":{"domain":[0,47],"nice":false},"axis":null}}},
  {"width":237,"height":176,"layer":[
   {"data":{"values":[{"x":1,"y":0,"y2":0.224},{"x":2,"y":-0.038,"y2":0.057},{"x":3,"y":-0.065,"y2":0.024},{"x":4,"y":-0.149,"y2":-0.003},{"x":5,"y":-0.154,"y2":0}]},
    "mark":{"type":"rule","color":"#6a9edb","strokeWidth":4,"strokeCap":"round","opacity":0.9},
    "encoding":{"x":{"field":"x","type":"quantitative","scale":{"domain":[0.178,5.79],"nice":false,"zero":false},"axis":{"values":[1,2,3,4,5],"tickCount":20,"labelOverlap":false,"format":"d","title":"IC174Q03JA"}},"y":{"field":"y","type":"quantitative","scale":{"domain":[-0.2,0.27],"nice":false,"zero":false},"axis":{"values":[-0.2,-0.1,0,0.1,0.2],"tickCount":20,"labelOverlap":false,"format":".1f","title":["SHAP value for","IC174Q03JA"]}},"y2":{"field":"y2"}}},
   {"data":{"values":[{"x":3,"y":-0.083},{"x":4,"y":0.009},{"x":5,"y":0.033},{"x":5,"y":0.011}]},"mark":{"type":"circle","color":"#6a9edb","size":14,"opacity":0.9},
    "encoding":{"x":{"field":"x","type":"quantitative","scale":{"domain":[0.178,5.79],"nice":false,"zero":false}},"y":{"field":"y","type":"quantitative","scale":{"domain":[-0.2,0.27],"nice":false,"zero":false}}}},
   {"data":{"values":[{"x":1,"y":0.089},{"x":2,"y":0.009},{"x":3,"y":-0.021},{"x":4,"y":-0.052},{"x":5,"y":-0.075}]},"mark":{"type":"line","color":"#5b93d6","strokeWidth":2},
    "encoding":{"x":{"field":"x","type":"quantitative","scale":{"domain":[0.178,5.79],"nice":false,"zero":false}},"y":{"field":"y","type":"quantitative","scale":{"domain":[-0.2,0.27],"nice":false,"zero":false}}}},
   {"data":{"values":[{}]},"mark":{"type":"rule","color":"#000","strokeWidth":1,"strokeDash":[5,2,1,2]},"encoding":{"y":{"datum":0}}}
  ]}
 ],"spacing":15},
 {"vconcat":[
  {"width":65,"height":47,"data":{"values":[{}]},"mark":{"type":"text","text":""},"encoding":{}},
  {"width":65,"height":176,"data":{"values":[{"y":0.251,"d":0},{"y":0.193,"d":0},{"y":0.171,"d":1.7},{"y":0.144,"d":7.3},{"y":0.122,"d":15.7},{"y":0.1,"d":22.3},{"y":0.082,"d":19},{"y":0.06,"d":10.7},{"y":0.042,"d":8.3},{"y":0.024,"d":19},{"y":0.006,"d":45.7},{"y":-0.012,"d":62.3},{"y":-0.029,"d":49},{"y":-0.047,"d":37.3},{"y":-0.069,"d":29},{"y":-0.087,"d":17.3},{"y":-0.105,"d":7.3},{"y":-0.127,"d":2.3},{"y":-0.18,"d":0}]},
   "mark":{"type":"area","orient":"horizontal","interpolate":"monotone","fill":"#d6e3f4","stroke":"#7ba7dd","strokeWidth":1},
   "encoding":{"y":{"field":"y","type":"quantitative","scale":{"domain":[-0.2,0.27],"nice":false,"zero":false},"axis":null},"x":{"field":"d","type":"quantitative","scale":{"domain":[0,65],"nice":false},"axis":null}}}
 ],"spacing":15}
],"spacing":20},
{"hconcat":[
 {"vconcat":[
  {"width":230,"height":53,"data":{"values":[{"x":0.67,"d":0},{"x":0.75,"d":2.22},{"x":0.83,"d":9},{"x":0.92,"d":20.9},{"x":1,"d":27.7},{"x":1.08,"d":20.9},{"x":1.17,"d":9},{"x":1.25,"d":2.22},{"x":1.33,"d":0},{"x":1.67,"d":0},{"x":1.75,"d":3.66},{"x":1.83,"d":14.9},{"x":1.92,"d":34.5},{"x":2,"d":45.7},{"x":2.08,"d":34.5},{"x":2.17,"d":14.9},{"x":2.25,"d":3.66},{"x":2.33,"d":0},{"x":2.67,"d":0},{"x":2.75,"d":2.46},{"x":2.83,"d":9.98},{"x":2.92,"d":23.2},{"x":3,"d":30.7},{"x":3.08,"d":23.2},{"x":3.17,"d":9.98},{"x":3.25,"d":2.46},{"x":3.33,"d":0},{"x":3.67,"d":0},{"x":3.75,"d":0.22},{"x":3.83,"d":0.88},{"x":3.92,"d":2.04},{"x":4,"d":2.7},{"x":4.08,"d":2.04},{"x":4.17,"d":0.88},{"x":4.25,"d":0.22},{"x":4.33,"d":0}]},
   "mark":{"type":"area","interpolate":"monotone","fill":"#d6e3f4","stroke":"#7ba7dd","strokeWidth":1},
   "encoding":{"x":{"field":"x","type":"quantitative","scale":{"domain":[0.49,4.5],"nice":false,"zero":false},"axis":null},"y":{"field":"d","type":"quantitative","scale":{"domain":[0,53],"nice":false},"axis":null}}},
  {"width":230,"height":172,"layer":[
   {"data":{"values":[{"x":1,"y":-0.141,"y2":0.028},{"x":2,"y":-0.027,"y2":0.071},{"x":3,"y":-0.002,"y2":0.168},{"x":4,"y":0,"y2":0.152}]},
    "mark":{"type":"rule","color":"#6a9edb","strokeWidth":4,"strokeCap":"round","opacity":0.9},
    "encoding":{"x":{"field":"x","type":"quantitative","scale":{"domain":[0.49,4.5],"nice":false,"zero":false},"axis":{"values":[0.5,1,1.5,2,2.5,3,3.5,4,4.5],"tickCount":20,"labelOverlap":false,"format":".1f","title":"IC180Q08JA"}},"y":{"field":"y","type":"quantitative","scale":{"domain":[-0.187,0.206],"nice":false,"zero":false},"axis":{"values":[-0.15,-0.1,-0.05,0,0.05,0.1,0.15,0.2],"tickCount":20,"labelOverlap":false,"format":".2f","title":["SHAP value for","IC180Q08JA"]}},"y2":{"field":"y2"}}},
   {"data":{"values":[{"x":1,"y":-0.149}]},"mark":{"type":"circle","color":"#6a9edb","size":14,"opacity":0.9},
    "encoding":{"x":{"field":"x","type":"quantitative","scale":{"domain":[0.49,4.5],"nice":false,"zero":false}},"y":{"field":"y","type":"quantitative","scale":{"domain":[-0.187,0.206],"nice":false,"zero":false}}}},
   {"data":{"values":[{"x":1,"y":-0.046},{"x":2,"y":0.015},{"x":3,"y":0.059},{"x":4,"y":0.048}]},"mark":{"type":"line","color":"#5b93d6","strokeWidth":2},
    "encoding":{"x":{"field":"x","type":"quantitative","scale":{"domain":[0.49,4.5],"nice":false,"zero":false}},"y":{"field":"y","type":"quantitative","scale":{"domain":[-0.187,0.206],"nice":false,"zero":false}}}},
   {"data":{"values":[{}]},"mark":{"type":"rule","color":"#000","strokeWidth":1,"strokeDash":[5,2,1,2]},"encoding":{"y":{"datum":0}}}
  ]}
 ],"spacing":15},
 {"vconcat":[
  {"width":65,"height":53,"data":{"values":[{}]},"mark":{"type":"text","text":""},"encoding":{}},
  {"width":65,"height":172,"data":{"values":[{"y":0.187,"d":0},{"y":0.164,"d":0},{"y":0.141,"d":1},{"y":0.118,"d":3.3},{"y":0.095,"d":8.3},{"y":0.076,"d":16.7},{"y":0.061,"d":35},{"y":0.05,"d":51.7},{"y":0.038,"d":60},{"y":0.027,"d":53.3},{"y":0.015,"d":55},{"y":0.004,"d":45},{"y":-0.008,"d":25},{"y":-0.023,"d":20},{"y":-0.038,"d":25},{"y":-0.05,"d":26.7},{"y":-0.065,"d":21.7},{"y":-0.084,"d":11.7},{"y":-0.103,"d":5},{"y":-0.126,"d":1.7},{"y":-0.168,"d":0}]},
   "mark":{"type":"area","orient":"horizontal","interpolate":"monotone","fill":"#d6e3f4","stroke":"#7ba7dd","strokeWidth":1},
   "encoding":{"y":{"field":"y","type":"quantitative","scale":{"domain":[-0.187,0.206],"nice":false,"zero":false},"axis":null},"x":{"field":"d","type":"quantitative","scale":{"domain":[0,65],"nice":false},"axis":null}}}
 ],"spacing":15}
],"spacing":20}
],"spacing":-1},
{"hconcat":[
{"hconcat":[
 {"vconcat":[
  {"width":243,"height":71,"data":{"values":[{"x":0.67,"d":0},{"x":0.75,"d":0.74},{"x":0.83,"d":3.02},{"x":0.92,"d":7.02},{"x":1,"d":9.3},{"x":1.08,"d":7.02},{"x":1.17,"d":3.02},{"x":1.25,"d":0.74},{"x":1.33,"d":0},{"x":1.67,"d":0},{"x":1.75,"d":0.88},{"x":1.83,"d":3.58},{"x":1.92,"d":8.31},{"x":2,"d":11},{"x":2.08,"d":8.31},{"x":2.17,"d":3.58},{"x":2.25,"d":0.88},{"x":2.33,"d":0},{"x":2.67,"d":0},{"x":2.75,"d":3.86},{"x":2.83,"d":15.7},{"x":2.92,"d":36.5},{"x":3,"d":48.3},{"x":3.08,"d":36.5},{"x":3.17,"d":15.7},{"x":3.25,"d":3.86},{"x":3.33,"d":0},{"x":3.67,"d":0},{"x":3.75,"d":1.28},{"x":3.83,"d":5.2},{"x":3.92,"d":12.1},{"x":4,"d":16},{"x":4.08,"d":12.1},{"x":4.17,"d":5.2},{"x":4.25,"d":1.28},{"x":4.33,"d":0}]},
   "mark":{"type":"area","interpolate":"monotone","fill":"#d6e3f4","stroke":"#7ba7dd","strokeWidth":1},
   "encoding":{"x":{"field":"x","type":"quantitative","scale":{"domain":[0.46,4.54],"nice":false,"zero":false},"axis":null},"y":{"field":"d","type":"quantitative","scale":{"domain":[0,71],"nice":false},"axis":null}}},
  {"width":243,"height":181,"layer":[
   {"data":{"values":[{"x":1,"y":-0.035,"y2":0.141},{"x":2,"y":0,"y2":0.16},{"x":3,"y":-0.008,"y2":0.058},{"x":4,"y":-0.148,"y2":0.036}]},
    "mark":{"type":"rule","color":"#6a9edb","strokeWidth":4,"strokeCap":"round","opacity":0.9},
    "encoding":{"x":{"field":"x","type":"quantitative","scale":{"domain":[0.46,4.54],"nice":false,"zero":false},"axis":{"values":[0.5,1,1.5,2,2.5,3,3.5,4,4.5],"tickCount":20,"labelOverlap":false,"format":".1f","title":"IC179Q03JA"}},"y":{"field":"y","type":"quantitative","scale":{"domain":[-0.178,0.19],"nice":false,"zero":false},"axis":{"values":[-0.15,-0.1,-0.05,0,0.05,0.1,0.15],"tickCount":20,"labelOverlap":false,"format":".2f","title":["SHAP value for","IC179Q03JA"]}},"y2":{"field":"y2"}}},
   {"data":{"values":[{"x":1,"y":0.15},{"x":4,"y":0.048}]},"mark":{"type":"circle","color":"#6a9edb","size":14,"opacity":0.9},
    "encoding":{"x":{"field":"x","type":"quantitative","scale":{"domain":[0.46,4.54],"nice":false,"zero":false}},"y":{"field":"y","type":"quantitative","scale":{"domain":[-0.178,0.19],"nice":false,"zero":false}}}},
   {"data":{"values":[{"x":1,"y":0.037},{"x":2,"y":0.06},{"x":3,"y":0.022},{"x":4,"y":-0.041}]},"mark":{"type":"line","color":"#5b93d6","strokeWidth":2},
    "encoding":{"x":{"field":"x","type":"quantitative","scale":{"domain":[0.46,4.54],"nice":false,"zero":false}},"y":{"field":"y","type":"quantitative","scale":{"domain":[-0.178,0.19],"nice":false,"zero":false}}}},
   {"data":{"values":[{}]},"mark":{"type":"rule","color":"#000","strokeWidth":1,"strokeDash":[5,2,1,2]},"encoding":{"y":{"datum":0}}}
  ]}
 ],"spacing":15},
 {"vconcat":[
  {"width":65,"height":71,"data":{"values":[{}]},"mark":{"type":"text","text":""},"encoding":{}},
  {"width":65,"height":181,"data":{"values":[{"y":0.176,"d":0},{"y":0.135,"d":0},{"y":0.114,"d":0.7},{"y":0.087,"d":2.3},{"y":0.063,"d":5.7},{"y":0.05,"d":10.7},{"y":0.039,"d":24},{"y":0.033,"d":40.7},{"y":0.026,"d":54},{"y":0.019,"d":60.7},{"y":0.012,"d":47.3},{"y":0.005,"d":20.7},{"y":-0.001,"d":5.7},{"y":-0.015,"d":3.3},{"y":-0.029,"d":5.7},{"y":-0.049,"d":6.7},{"y":-0.076,"d":3.3},{"y":-0.103,"d":1.3},{"y":-0.117,"d":0.7},{"y":-0.161,"d":0}]},
   "mark":{"type":"area","orient":"horizontal","interpolate":"monotone","fill":"#d6e3f4","stroke":"#7ba7dd","strokeWidth":1},
   "encoding":{"y":{"field":"y","type":"quantitative","scale":{"domain":[-0.178,0.19],"nice":false,"zero":false},"axis":null},"x":{"field":"d","type":"quantitative","scale":{"domain":[0,65],"nice":false},"axis":null}}}
 ],"spacing":15}
],"spacing":20},
{"hconcat":[
 {"vconcat":[
  {"width":232,"height":80,"data":{"values":[{"x":0.64,"d":0},{"x":0.73,"d":1.28},{"x":0.82,"d":5.2},{"x":0.91,"d":12.1},{"x":1,"d":16},{"x":1.09,"d":12.1},{"x":1.18,"d":5.2},{"x":1.27,"d":1.28},{"x":1.36,"d":0},{"x":1.64,"d":0},{"x":1.73,"d":2.72},{"x":1.82,"d":11.1},{"x":1.91,"d":25.7},{"x":2,"d":34},{"x":2.09,"d":25.7},{"x":2.18,"d":11.1},{"x":2.27,"d":2.72},{"x":2.36,"d":0},{"x":2.64,"d":0},{"x":2.73,"d":3.68},{"x":2.82,"d":15},{"x":2.91,"d":34.7},{"x":3,"d":46},{"x":3.09,"d":34.7},{"x":3.18,"d":15},{"x":3.27,"d":3.68},{"x":3.36,"d":0},{"x":3.64,"d":0},{"x":3.73,"d":1.12},{"x":3.82,"d":4.55},{"x":3.91,"d":10.6},{"x":4,"d":14},{"x":4.09,"d":10.6},{"x":4.18,"d":4.55},{"x":4.27,"d":1.12},{"x":4.36,"d":0}]},
   "mark":{"type":"area","interpolate":"monotone","fill":"#d6e3f4","stroke":"#7ba7dd","strokeWidth":1},
   "encoding":{"x":{"field":"x","type":"quantitative","scale":{"domain":[0.44,4.54],"nice":false,"zero":false},"axis":null},"y":{"field":"d","type":"quantitative","scale":{"domain":[0,80],"nice":false},"axis":null}}},
  {"width":232,"height":172,"layer":[
   {"data":{"values":[{"x":1,"y":-0.027,"y2":0.092},{"x":2,"y":-0.017,"y2":0.103},{"x":3,"y":-0.067,"y2":0.062},{"x":4,"y":-0.106,"y2":0.028}]},
    "mark":{"type":"rule","color":"#6a9edb","strokeWidth":4,"strokeCap":"round","opacity":0.9},
    "encoding":{"x":{"field":"x","type":"quantitative","scale":{"domain":[0.44,4.54],"nice":false,"zero":false},"axis":{"values":[0.5,1,1.5,2,2.5,3,3.5,4,4.5],"tickCount":20,"labelOverlap":false,"format":".1f","title":"IC182Q02JA"}},"y":{"field":"y","type":"quantitative","scale":{"domain":[-0.147,0.125],"nice":false,"zero":false},"axis":{"values":[-0.1,-0.05,0,0.05,0.1],"tickCount":20,"labelOverlap":false,"format":".2f","title":["SHAP value for","IC182Q02JA"]}},"y2":{"field":"y2"}}},
   {"data":{"values":[{"x":1,"y":-0.035},{"x":1,"y":-0.045},{"x":1,"y":-0.057},{"x":2,"y":-0.027},{"x":4,"y":-0.122}]},"mark":{"type":"circle","color":"#6a9edb","size":14,"opacity":0.9},
    "encoding":{"x":{"field":"x","type":"quantitative","scale":{"domain":[0.44,4.54],"nice":false,"zero":false}},"y":{"field":"y","type":"quantitative","scale":{"domain":[-0.147,0.125],"nice":false,"zero":false}}}},
   {"data":{"values":[{"x":1,"y":0.027},{"x":2,"y":0.033},{"x":3,"y":-0.009},{"x":4,"y":-0.033}]},"mark":{"type":"line","color":"#5b93d6","strokeWidth":2},
    "encoding":{"x":{"field":"x","type":"quantitative","scale":{"domain":[0.44,4.54],"nice":false,"zero":false}},"y":{"field":"y","type":"quantitative","scale":{"domain":[-0.147,0.125],"nice":false,"zero":false}}}},
   {"data":{"values":[{}]},"mark":{"type":"rule","color":"#000","strokeWidth":1,"strokeDash":[5,2,1,2]},"encoding":{"y":{"datum":0}}}
  ]}
 ],"spacing":15},
 {"vconcat":[
  {"width":65,"height":80,"data":{"values":[{}]},"mark":{"type":"text","text":""},"encoding":{}},
  {"width":65,"height":172,"data":{"values":[{"y":0.112,"d":0},{"y":0.096,"d":0},{"y":0.081,"d":2},{"y":0.065,"d":11},{"y":0.052,"d":27.7},{"y":0.041,"d":39.3},{"y":0.032,"d":44.3},{"y":0.024,"d":39.3},{"y":0.016,"d":36},{"y":0.007,"d":46},{"y":-0.001,"d":56},{"y":-0.009,"d":61},{"y":-0.018,"d":51},{"y":-0.027,"d":29.3},{"y":-0.038,"d":12.7},{"y":-0.051,"d":4.3},{"y":-0.067,"d":1.7},{"y":-0.088,"d":0.3},{"y":-0.135,"d":0}]},
   "mark":{"type":"area","orient":"horizontal","interpolate":"monotone","fill":"#d6e3f4","stroke":"#7ba7dd","strokeWidth":1},
   "encoding":{"y":{"field":"y","type":"quantitative","scale":{"domain":[-0.147,0.125],"nice":false,"zero":false},"axis":null},"x":{"field":"d","type":"quantitative","scale":{"domain":[0,65],"nice":false},"axis":null}}}
 ],"spacing":15}
],"spacing":20}
],"spacing":-1}
]}
